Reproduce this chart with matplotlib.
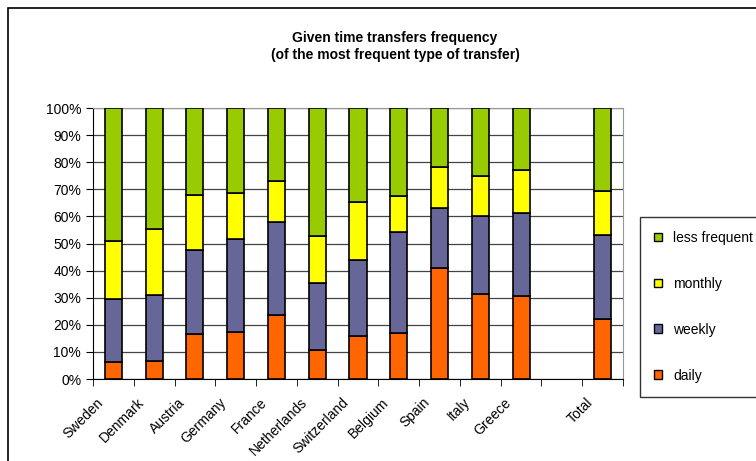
import matplotlib
matplotlib.use("Agg")
import matplotlib.pyplot as plt
import matplotlib.transforms as mtransforms
import numpy as np
from matplotlib.patches import Rectangle, Patch

countries = ['Sweden', 'Denmark', 'Austria', 'Germany', 'France', 'Netherlands',
             'Switzerland', 'Belgium', 'Spain', 'Italy', 'Greece', '', 'Total']
# cumulative tops (%), empty slot before Total
daily_top = [6.2, 6.7, 16.5, 17.5, 23.8, 10.6, 15.9, 17.0, 40.9, 31.4, 30.5, 0, 22.2]
weekly_top = [29.4, 31.0, 47.7, 51.7, 58.0, 35.6, 44.0, 54.4, 63.1, 60.1, 61.2, 0, 53.0]
monthly_top = [51.1, 55.4, 67.9, 68.8, 73.0, 52.7, 65.3, 67.4, 78.3, 74.8, 77.2, 0, 69.5]
total_top = [100, 100, 100, 100, 100, 100, 100, 100, 100, 100, 100, 0, 100]

daily = np.array(daily_top)
weekly = np.array(weekly_top) - np.array(daily_top)
monthly = np.array(monthly_top) - np.array(weekly_top)
less = np.array(total_top) - np.array(monthly_top)

series = ['daily', 'weekly', 'monthly', 'less frequent']
colors = ['#FF6600', '#666699', '#FFFF00', '#99CC00']

plt.rcParams['font.family'] = ['Liberation Sans', 'DejaVu Sans']

fig = plt.figure(figsize=(7.56, 4.61), dpi=100)
ax = fig.add_axes([93 / 756, 82 / 461, 530 / 756, 271 / 461])

# outer chart frame
fig.patches.append(Rectangle((8 / 756, -0.1), 1.2, (461 - 8) / 461 + 0.1,
                             transform=fig.transFigure, fill=False,
                             edgecolor='black', linewidth=1.2, zorder=0))

x = np.arange(len(countries))
has_bar = np.array(total_top) > 0
width = 0.42
bottom = np.zeros(len(countries))
for vals, c, name in zip([daily, weekly, monthly, less], colors, series):
    ax.bar(x[has_bar], vals[has_bar], width, bottom=bottom[has_bar], color=c,
           edgecolor='black', linewidth=1.2, label=name, zorder=3)
    bottom += vals

ax.set_xlim(-0.5, len(countries) - 0.5)
ax.set_ylim(0, 100)
ax.set_yticks(np.arange(0, 101, 10))
ax.set_yticklabels([f'{v}%' for v in range(0, 101, 10)], fontsize=10)
ax.yaxis.grid(True, color='#444444', linewidth=0.9, zorder=0)

ax.set_xticks(x)
ax.set_xticklabels(countries, rotation=45, ha='right', rotation_mode='anchor', fontsize=10)
ax.tick_params(axis='x', which='major', length=0, pad=6)
ax.set_xticks(np.arange(-0.5, len(countries), 1), minor=True)
ax.tick_params(axis='x', which='minor', length=5, direction='out')
ax.tick_params(axis='y', length=5, direction='out')

# nudge rotated labels left/down like the original
shift = mtransforms.ScaledTranslation(-17 / 100, -8 / 100, fig.dpi_scale_trans)
for lbl in ax.get_xticklabels():
    lbl.set_transform(lbl.get_transform() + shift)

ax.spines['top'].set_color('#999999')
ax.spines['right'].set_color('#999999')

fig.text(395 / 756, 1 - 38 / 461, 'Given time transfers frequency', ha='center',
         va='center', fontsize=10, fontweight='bold')
fig.text(395 / 756, 1 - 55 / 461, '(of the most frequent type of transfer)', ha='center',
         va='center', fontsize=10, fontweight='bold')

handles = [Patch(facecolor=c, edgecolor='black', linewidth=1.0) for c in colors[::-1]]
leg = fig.legend(handles, series[::-1], loc='upper left',
                 bbox_to_anchor=(640 / 756, 1 - 217 / 461), fontsize=10,
                 frameon=True, fancybox=False, edgecolor='black',
                 handlelength=0.6, handleheight=0.6, labelspacing=2.3,
                 borderpad=1.0, handletextpad=0.8, borderaxespad=0)
leg.get_frame().set_linewidth(1.0)

fig.savefig('out.png', dpi=100)
